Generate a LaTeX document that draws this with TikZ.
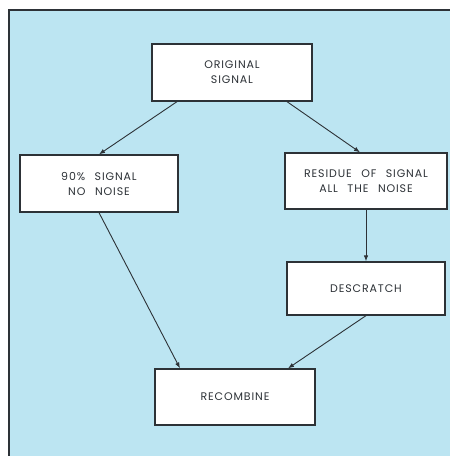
\documentclass[tikz,border=0pt]{standalone}
\usepackage{fontspec}
\setmainfont{Poppins}
\newfontfamily\boxfont[LetterSpace=8, WordSpace=2.5]{Poppins}
\usetikzlibrary{arrows.meta}
\definecolor{panelblue}{RGB}{188,229,242}
\definecolor{inkgray}{RGB}{45,50,55}
\tikzset{
	stage/.style={draw=inkgray, line width=1.3pt, fill=white, align=center,
		font=\boxfont\fontsize{11}{15}\selectfont, text=inkgray, inner sep=0pt},
	flow/.style={-{Latex[length=6pt,width=4.5pt]}, draw=inkgray, line width=0.9pt}
}
\begin{document}
\begin{tikzpicture}[x=1pt, y=-1pt]
			\useasboundingbox (0,0) rectangle (450,456);
			%panel
			\begin{scope}
				\clip (0,0) rectangle (450,456);
				\draw[inkgray, line width=1.8pt, fill=panelblue] (9,10) rectangle (455,462);
			\end{scope}
			
			%boxes
			\node[stage, minimum width=160pt, minimum height=57pt] (orig) at (232,72.5){ORIGINAL\\SIGNAL};
			\node[stage, minimum width=158pt, minimum height=57pt] (clean) at (99,183.5){90\% SIGNAL\\NO NOISE};
			\node[stage, minimum width=162pt, minimum height=56pt] (resid) at (366,181){RESIDUE OF SIGNAL\\ALL THE NOISE};
			\node[stage, minimum width=158pt, minimum height=53pt] (descr) at (366,288.5){DESCRATCH};
			\node[stage, minimum width=160pt, minimum height=56pt] (recomb) at (235,397){RECOMBINE};
			
			%arrows
			\draw[flow] ([xshift=-55pt]orig.south) -- (clean.north);
			\draw[flow] ([xshift=55pt]orig.south) -- ([xshift=-6pt]resid.north);
			\draw[flow] (clean.south) -- ([xshift=-55pt]recomb.north);
			\draw[flow] (resid.south) -- (descr.north);
			\draw[flow] (descr.south) -- ([xshift=53pt]recomb.north);
		\end{tikzpicture}
\end{document}
